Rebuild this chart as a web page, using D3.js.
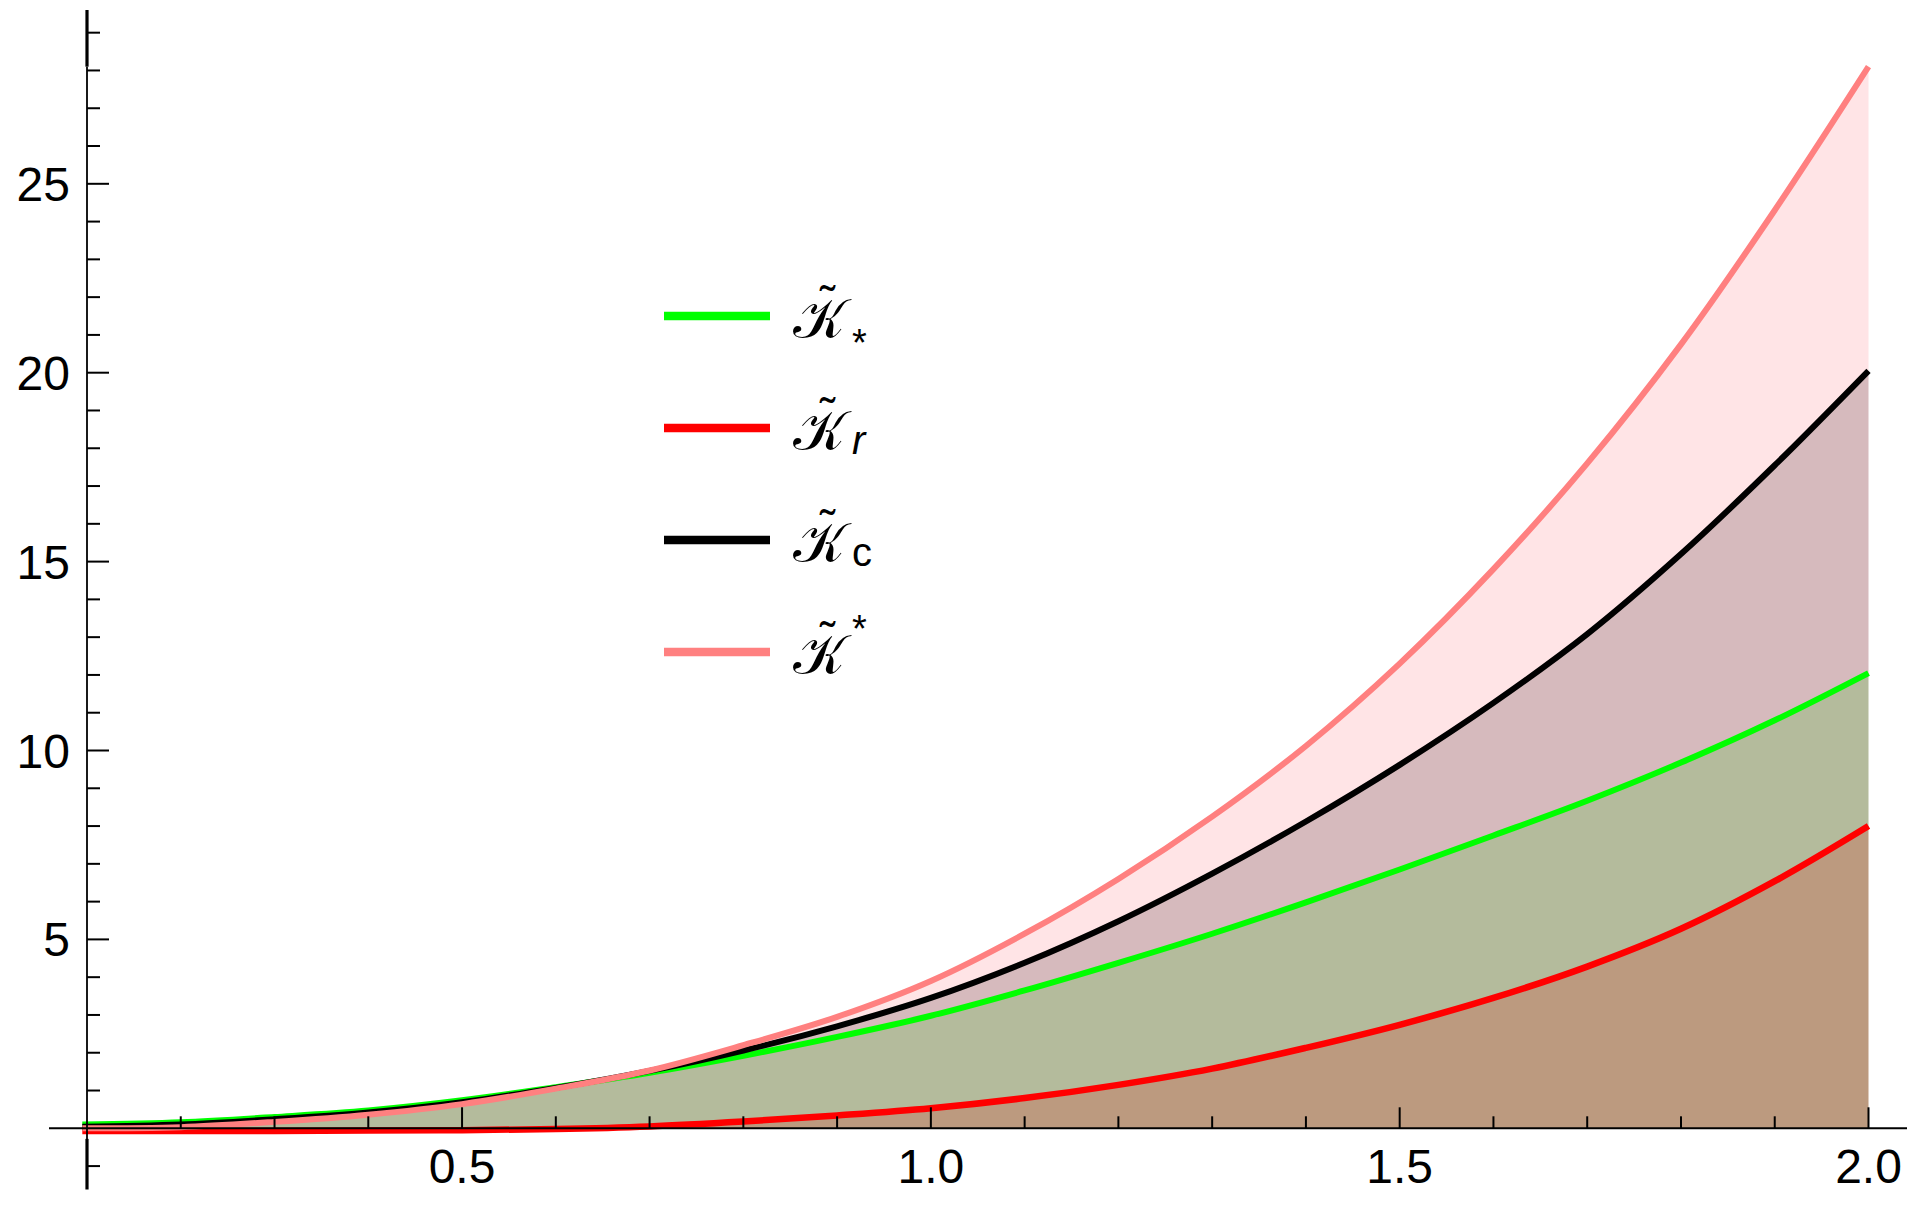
<!DOCTYPE html>
<html>
<head>
<meta charset="utf-8">
<script src="https://cdn.jsdelivr.net/npm/d3@7/dist/d3.min.js"></script>
<style>
  html, body { margin: 0; padding: 0; background: #ffffff; }
  svg { display: block; }
</style>
</head>
<body>
<svg id="chart" width="1919" height="1210"></svg>
<script>
// ---- data ----
const xs      = [0.095,0.2,0.3,0.4,0.5,0.6,0.7,0.8,0.9,1.0,1.1,1.2,1.3,1.4,1.5,1.6,1.7,1.8,1.9,2.0];
const kStar   = [0.10,0.16,0.30,0.47,0.74,1.09,1.47,1.92,2.42,2.98,3.65,4.38,5.15,5.98,6.85,7.75,8.67,9.68,10.8,12.05]; // green
const kR      = [-0.07,-0.07,-0.07,-0.06,-0.05,-0.02,0.05,0.18,0.34,0.53,0.80,1.15,1.58,2.13,2.74,3.45,4.28,5.28,6.54,8.0]; // red
const kC      = [0.04,0.10,0.24,0.42,0.69,1.07,1.52,2.06,2.70,3.45,4.38,5.48,6.74,8.12,9.62,11.26,13.08,15.2,17.55,20.05]; // black
const kUpper  = [0.0,0.03,0.17,0.36,0.64,1.05,1.53,2.2,2.95,3.9,5.15,6.6,8.25,10.12,12.3,14.8,17.6,20.75,24.3,28.1]; // pink

const xMajorTicks = [0.5, 1.0, 1.5, 2.0];
const xTickLabels = ["0.5", "1.0", "1.5", "2.0"];
const yMajorTicks = [5, 10, 15, 20, 25];
const yTickLabels = ["5", "10", "15", "20", "25"];

const legendItems = [
  { sub: "*", pos: "sub",  color: "#00ff00" },
  { sub: "r", pos: "sub",  color: "#ff0000" },
  { sub: "c", pos: "sub",  color: "#000000" },
  { sub: "*", pos: "sup",  color: "#ff8080" }
];

// ---- drawing ----
const svg = d3.select("#chart");
svg.append("rect").attr("width", 1919).attr("height", 1210).attr("fill", "#ffffff");

const x = d3.scaleLinear().domain([0.1, 2.0]).range([87, 1868.5]);
const y = d3.scaleLinear().domain([0, 25]).range([1128.3, 183.8]);
const smooth = d3.curveCatmullRom.alpha(0.5);

const pts = (arr) => xs.map((v, i) => [v, arr[i]]);

function band(upper, lower, fill) {
  const a = d3.area()
    .x((d, i) => x(xs[i]))
    .y0((d, i) => y(lower ? lower[i] : 0))
    .y1((d, i) => y(upper[i]))
    .curve(smooth);
  svg.append("path").datum(upper).attr("d", a).attr("fill", fill).attr("stroke", "none");
}
band(kUpper, kC, "#ffe4e6");
band(kC, kStar, "#d6babd");
band(kStar, kR, "#b4bb9c");
band(kR, null, "#bc9a7f");

const line = d3.line().x(d => x(d[0])).y(d => y(d[1])).curve(smooth);
function curve(arr, color, w) {
  svg.append("path").datum(pts(arr)).attr("d", line)
    .attr("fill", "none").attr("stroke", color).attr("stroke-width", w)
    .attr("stroke-linecap", "butt").attr("stroke-linejoin", "round");
}
curve(kStar, "#00ff00", 6);
curve(kR, "#ff0000", 6.5);
curve(kC, "#000000", 6);
curve(kUpper, "#ff8080", 6);

// ---- axes ----
const axisG = svg.append("g").attr("stroke", "#000");
const y0 = y(0);
axisG.append("line").attr("x1", 49).attr("x2", 1907).attr("y1", y0).attr("y2", y0).attr("stroke-width", 2);
d3.range(2, 21).map(k => k / 10).forEach(v => {
  const major = xMajorTicks.some(m => Math.abs(m - v) < 1e-9);
  axisG.append("line").attr("x1", x(v)).attr("x2", x(v))
    .attr("y1", y0).attr("y2", y0 - (major ? 21 : 12)).attr("stroke-width", 2);
});
const xa = x(0.1);
axisG.append("line").attr("x1", xa).attr("x2", xa).attr("y1", y(28.1)).attr("y2", y(-0.28)).attr("stroke-width", 1.8);
axisG.append("line").attr("x1", xa).attr("x2", xa).attr("y1", y(29.6)).attr("y2", y(28.1)).attr("stroke-width", 3.2);
axisG.append("line").attr("x1", xa).attr("x2", xa).attr("y1", y(-0.28)).attr("y2", y(-1.62)).attr("stroke-width", 3.2);
d3.range(-1, 30).forEach(v => {
  if (v === 0) return;
  const major = yMajorTicks.includes(v);
  axisG.append("line").attr("x1", xa).attr("x2", xa + (major ? 22 : 13))
    .attr("y1", y(v)).attr("y2", y(v)).attr("stroke-width", 2);
});

const lab = svg.append("g").attr("font-family", "'Liberation Sans', Arial, sans-serif")
  .attr("font-size", 48).attr("fill", "#000");
xMajorTicks.forEach((v, i) => {
  lab.append("text").attr("x", x(v)).attr("y", 1183).attr("text-anchor", "middle").text(xTickLabels[i]);
});
yMajorTicks.forEach((v, i) => {
  lab.append("text").attr("x", 70).attr("y", y(v) + 17).attr("text-anchor", "end").text(yTickLabels[i]);
});

// ---- legend ----
const lg = svg.append("g");
legendItems.forEach((it, i) => {
  const cy = 316 + i * 112;
  lg.append("line").attr("x1", 664).attr("x2", 770).attr("y1", cy).attr("y2", cy)
    .attr("stroke", it.color).attr("stroke-width", 8.7);
  const t = lg.append("text").attr("fill", "#000")
    .attr("font-family", "'Liberation Sans', Arial, sans-serif");
  t.append("tspan").attr("x", 793).attr("y", cy + 22)
    .attr("font-family", "'DejaVu Serif', 'DejaVu Sans', serif").attr("font-size", 56).text("𝒦");
  t.append("tspan").attr("x", 820).attr("y", cy + 2).attr("font-size", 46).text("˜");
  const s = t.append("tspan").attr("x", 852).text(it.sub);
  if (it.pos === "sub") {
    if (it.sub === "*") s.attr("y", cy + 40).attr("font-size", 38);
    else s.attr("y", cy + 26).attr("font-size", 40).attr("font-style", it.sub === "r" ? "italic" : "normal");
  } else {
    s.attr("y", cy - 10).attr("font-size", 38);
  }
});
</script>
</body>
</html>
